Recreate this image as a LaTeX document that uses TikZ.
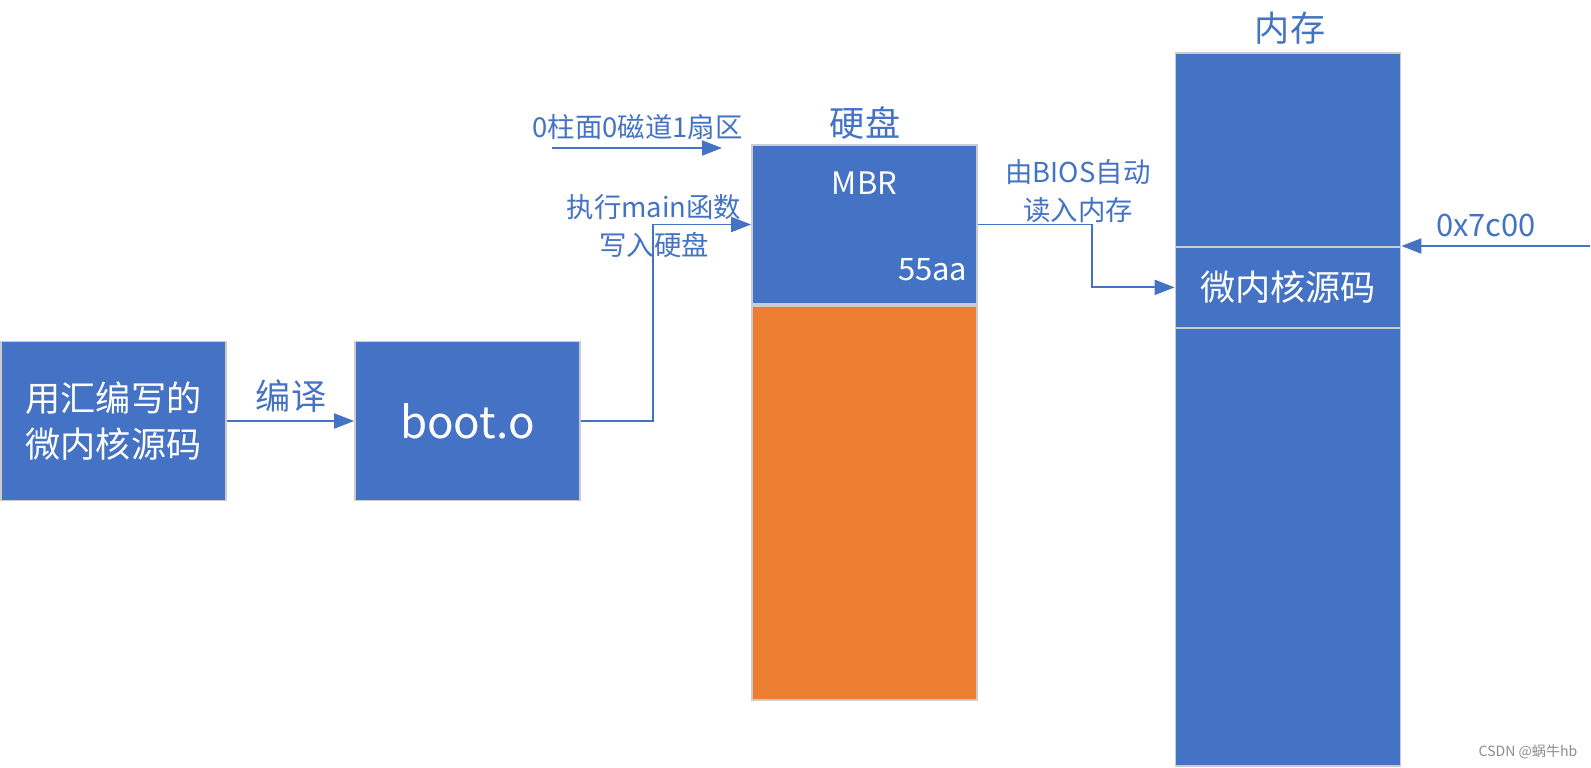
\documentclass[tikz,border=0pt]{standalone}
\usepackage{fontspec}
\setmainfont{Noto Sans CJK SC}
\usepackage{xcolor}
\usetikzlibrary{arrows.meta,calc,positioning}
\definecolor{officeblue}{HTML}{4472C4}
\definecolor{officeorange}{HTML}{ED7D31}
\newcommand{\fsbox}{\fontsize{10}{13}\selectfont}
\newcommand{\fslabel}{\fontsize{7.8}{10.6}\selectfont}
\newcommand{\fsword}{\fontsize{8.8}{10}\selectfont}
\newcommand{\fsboot}{\fontsize{12.5}{14}\selectfont}
\newcommand{\fstiny}{\fontsize{4}{5}\selectfont}

\begin{document}
\begin{tikzpicture}[>={Triangle[length=2mm,width=1.5mm]},
    block/.style={draw=black!20,line width=0.5pt,fill=officeblue,text=white,
      minimum width=2.25cm,minimum height=1.59cm,inner sep=0pt,align=center},
    tag/.style={text=officeblue,inner sep=0pt,align=center},
    link/.style={officeblue,line width=0.55pt}]
    \useasboundingbox (0,0) rectangle (15.91,7.67);
    % source and object file
    \node[block,font=\fsbox] (src) at (1.135,3.46) {用汇编写的\\微内核源码};
    \node[block,font=\fsboot] (boot) at (4.675,3.46) {boot.o};
    \draw[link,->] (src) -- (boot);
    \node[tag,font=\fsbox] (compile) at (2.91,3.71) {编译};
    % hard disk
    \node[block] (mbr) at (8.645,5.425) {};
    \node[block,fill=officeorange,minimum height=3.94cm,anchor=north] (rest) at (mbr.south) {};
    \node[tag,font=\fsbox] (disk) at (8.65,6.44) {硬盘};
    \node[tag,text=white,font=\fsword] (mbrname) at (8.645,5.84) {MBR};
    \node[tag,text=white,font=\fsword,anchor=east] (sig) at (9.68,4.97) {55aa};
    % boot sector
    \node[tag,font=\fslabel] (sector) at (6.375,6.40) {0柱面0磁道1扇区};
    \coordinate (s0) at (5.52,6.19);
    \coordinate (s1) at (7.22,6.19);
    \draw[link,->] (s0) -- (s1);
    \node[tag,font=\fslabel] (write) at (6.54,5.41) {执行main函数\\写入硬盘};
    \draw[link,->] (boot.east) -- ++(0.72,0) |- (mbr.west);
    % memory
    \node[block,minimum height=7.13cm,anchor=north] (mem) at (12.88,7.15) {};
    \node[block,font=\fsbox,minimum height=0.81cm,anchor=north] (kern) at (12.88,5.21) {微内核源码};
    \node[tag,font=\fsbox] (ram) at (12.90,7.39) {内存};
    \draw[link,->] (mbr.east) -- ++(1.14,0) |- (kern.west);
    \node[tag,font=\fslabel] (bios) at (10.78,5.76) {由BIOS自动\\读入内存};
    % load address
    \coordinate (addr) at (15.90,5.21);
    \draw[link,->] (addr) -- (kern.north east);
    \node[tag,font=\fsword] (load) at (14.86,5.42) {0x7c00};
    \node[text=black!45,font=\fstiny,inner sep=0pt] (mark) at (15.28,0.15) {CSDN @蜗牛hb};
\end{tikzpicture}
\end{document}
